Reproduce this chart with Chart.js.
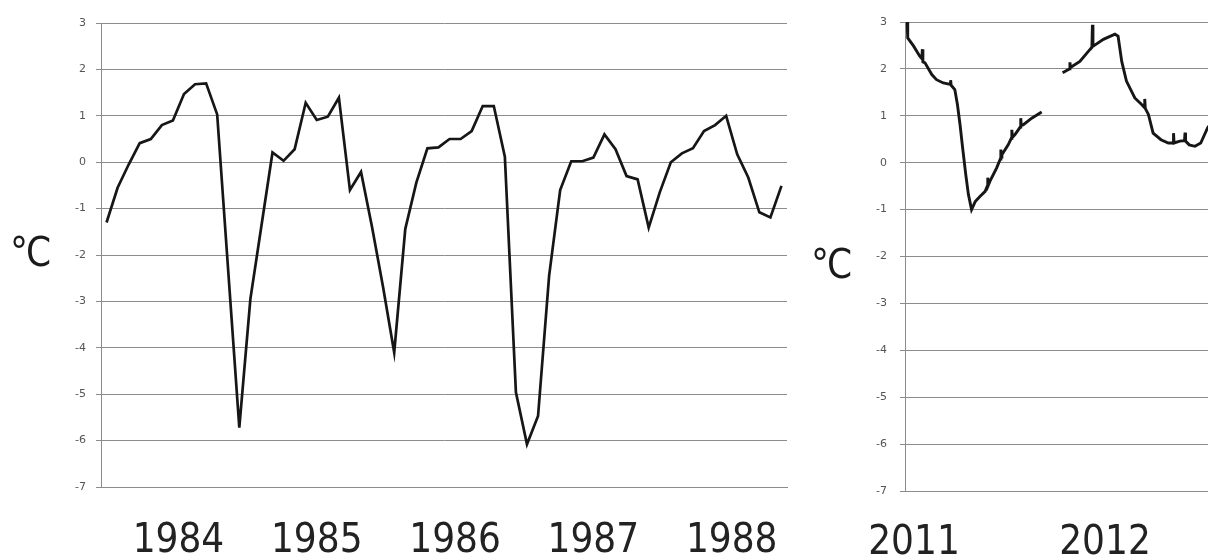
<!DOCTYPE html>
<html>
<head>
<meta charset="utf-8">
<script src="https://cdn.jsdelivr.net/npm/chart.js@4.4.1/dist/chart.umd.min.js"></script>
<style>
  html, body { margin: 0; padding: 0; background: #fff; }
  body { width: 1208px; height: 555px; overflow: hidden; position: relative; }
  .panel { position: absolute; top: 0; height: 555px; }
  #panelA { left: 0; width: 800px; }
  #panelB { left: 800px; width: 500px; }
  .unit {
    position: absolute;
    font-family: 'DejaVu Sans Condensed', 'DejaVu Sans', sans-serif;
    font-size: 40px;
    letter-spacing: -2px;
    line-height: 1;
    color: #1a1a1a;
  }
</style>
</head>
<body>
<div class="panel" id="panelA"><canvas id="chartA"></canvas></div>
<div class="panel" id="panelB"><canvas id="chartB"></canvas></div>
<div class="unit" style="left:10px; top:232px">°C</div>
<div class="unit" style="left:811px; top:244px">°C</div>
<script>
/* ── Data ─────────────────────────────── */

// left panel: one value per step, 1984–1988
const tempA = [
  -1.3, -0.55, -0.05, 0.41, 0.5, 0.8, 0.9, 1.47, 1.68, 1.7,
  1.03, -2.35, -5.72, -2.95, -1.37, 0.21, 0.03, 0.28, 1.28, 0.91,
  0.98, 1.39, -0.6, -0.21, -1.4, -2.7, -4.1, -1.44, -0.44, 0.3,
  0.32, 0.5, 0.5, 0.67, 1.21, 1.21, 0.12, -4.96, -6.08, -5.47,
  -2.45, -0.6, 0.02, 0.02, 0.1, 0.6, 0.28, -0.3, -0.37, -1.41,
  -0.65, 0.0, 0.19, 0.3, 0.67, 0.8, 1.0, 0.17, -0.33, -1.08,
  -1.19, -0.51
];
const yearsA = ['1984', '1985', '1986', '1987', '1988'];
const yearPosA = [6.5, 19, 31.5, 44, 56.5]; // step index under each year label

// right panel: day offset from 1 Jan 2011 (null value = gap in the record)
const daysB = [
  -13, -12, -1, 11, 15, 16, 17, 21, 34, 43,
  56, 69, 70, 71, 78, 83, 88, 93, 99, 104,
  110, 117, 126, 136, 140, 141, 142, 145, 158, 165,
  166, 167, 168, 180, 186, 187, 188, 193, 203, 204,
  205, 209, 225, 244, 264, 284, 297, 298, 299, 317,
  336, 340, 341, 342, 362, 384, 390, 397, 406, 422,
  435, 440, 441, 442, 448, 457, 472, 486, 495, 496,
  497, 508, 517, 518, 519, 526, 537, 548, 561, 571
];
const tempB = [
  3.0, 2.66, 2.49, 2.27, 2.22, 2.42, 2.15, 2.13, 1.88, 1.77,
  1.7, 1.67, 1.76, 1.65, 1.56, 1.24, 0.81, 0.31, -0.26, -0.68,
  -1.0, -0.83, -0.72, -0.61, -0.5, -0.32, -0.48, -0.4, -0.11, 0.08,
  0.28, 0.12, 0.17, 0.38, 0.52, 0.7, 0.54, 0.6, 0.76, 0.95,
  0.79, 0.81, 0.95, 1.08, null, 1.92, 2.0, 2.14, 2.03, 2.16,
  2.41, 2.46, 2.94, 2.48, 2.63, 2.74, 2.7, 2.16, 1.74, 1.38,
  1.24, 1.18, 1.36, 1.16, 1.03, 0.63, 0.49, 0.42, 0.42, 0.63,
  0.42, 0.46, 0.47, 0.64, 0.46, 0.38, 0.35, 0.42, 0.74, 0.9
];
const yearsB = ['2011', '2012'];
const yearPosB = [0, 365];

/* ── Chart builder ────────────────────── */

const GRID = '#8c8c8c';
const LABEL_FONT = "'DejaVu Sans Condensed', 'DejaVu Sans', sans-serif";

function buildPanel(canvasId, cfg) {
  const ctx = document.getElementById(canvasId).getContext('2d');
  return new Chart(ctx, {
    type: 'line',
    data: {
      datasets: [{
        data: cfg.points,
        borderColor: '#161616',
        borderWidth: cfg.lineWidth,
        pointRadius: 0,
        tension: 0,
        spanGaps: false,
        borderJoinStyle: 'miter',
      }],
    },
    options: {
      responsive: true,
      maintainAspectRatio: false,
      animation: false,
      layout: { padding: { top: cfg.top, right: cfg.right, left: 0, bottom: 0 } },
      plugins: { legend: { display: false }, tooltip: { enabled: false } },
      scales: {
        x: {
          type: 'linear',
          min: cfg.xMin,
          max: cfg.xMax,
          grid: { display: false, drawTicks: false },
          border: { display: true, color: GRID, width: 1 },
          afterBuildTicks: s => { s.ticks = cfg.yearPos.map(v => ({ value: v })); },
          afterFit: s => {
            s.height = cfg.xAxisH;
            // year labels sit well inside the plot, no extra side room needed
            s.paddingLeft = 0;
            s.paddingRight = 0;
          },
          ticks: {
            autoSkip: false,
            maxRotation: 0,
            padding: cfg.yearPad,
            color: '#222',
            font: { family: LABEL_FONT, size: 40 },
            callback: v => {
              const i = cfg.yearPos.indexOf(v);
              return i >= 0 ? cfg.years[i] : '';
            },
          },
        },
        y: {
          min: -7,
          max: 3,
          afterFit: s => { s.width = cfg.yAxisW; },
          ticks: {
            stepSize: 1,
            padding: cfg.tickPad,
            color: '#555',
            font: { family: "'DejaVu Sans'", size: 11 },
          },
          grid: { color: GRID, lineWidth: 1, tickLength: 5 },
          border: { display: true, color: GRID, width: 1 },
        },
      },
    },
  });
}

// ── Left: 1984–1988 ──
buildPanel('chartA', {
  points: tempA.map((v, i) => ({ x: i, y: v })),
  years: yearsA, yearPos: yearPosA,
  xMin: -0.5, xMax: tempA.length - 0.5,
  top: 23, right: 13, xAxisH: 68, yAxisW: 101, tickPad: 10, yearPad: 31,
  lineWidth: 2.7,
});

// ── Right: 2011–2012 (runs off the page edge) ──
buildPanel('chartB', {
  points: daysB.map((d, i) => ({ x: d, y: tempB[i] })),
  years: yearsB, yearPos: yearPosB,
  xMin: -17.2, xMax: 737.7,
  top: 22, right: 0, xAxisH: 64, yAxisW: 105, tickPad: 13, yearPad: 29,
  lineWidth: 2.9,
});
</script>
</body>
</html>
